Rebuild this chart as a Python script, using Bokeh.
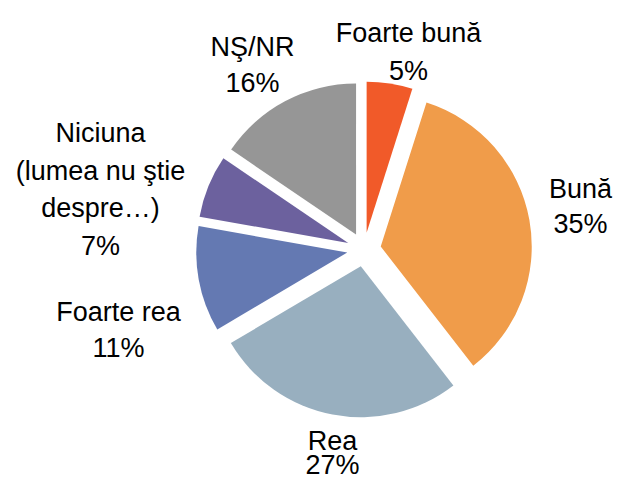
import math
from bokeh.plotting import figure
from bokeh.models import ColumnDataSource, Range1d
from bokeh.core.properties import value
from bokeh.embed import file_html
from bokeh.resources import INLINE

# ---- data ----
categories = ["Foarte bună", "Bună", "Rea", "Foarte rea",
              "Niciuna (lumea nu ştie despre…)", "NŞ/NR"]
label_lines = [["Foarte bună"], ["Bună"], ["Rea"], ["Foarte rea"],
               ["Niciuna", "(lumea nu ştie", "despre…)"], ["NŞ/NR"]]
values = [4.9, 34.6, 27.0, 11.3, 6.7, 15.5]
pct_labels = ["5%", "35%", "27%", "11%", "7%", "16%"]
colors = ["#F15A29", "#F09C4A", "#98AFBF", "#6479B2", "#6C619E", "#969696"]

# ---- layout (picture pixel coordinates, y measured downward) ----
PAGE_H = 491
W, H = 614, 475
SHIFT = -5          # small upward shift so the bottom label fits the canvas
CX, CY = 363.5, 254.0 + SHIFT
RADIUS = 151
EXPLODE = 17
label_cx = [408, 580, 332, 118, 100, 252]
label_first_baseline = [b + SHIFT for b in [37.3, 193.3, 445, 316.7, 137.3, 51]]
line_gap = [38, 35, 24, 36, 37.8, 36.7]
FONT = "Liberation Sans"
FONT_SIZE = "27px"

total = sum(values)
xs, ys, starts, ends = [], [], [], []
acc = 0.0
for v in values:
    t0 = acc / total * 2 * math.pi
    acc += v
    t1 = acc / total * 2 * math.pi
    tm = (t0 + t1) / 2
    xs.append(CX + EXPLODE * math.sin(tm))
    ys.append((PAGE_H - CY) + EXPLODE * math.cos(tm))
    starts.append(math.pi / 2 - t0)
    ends.append(math.pi / 2 - t1)

src = ColumnDataSource(dict(x=xs, y=ys, start=starts, end=ends,
                            color=colors, cat=categories))

p = figure(width=W, height=H, output_backend="svg", toolbar_location=None,
           title=None,
           x_range=Range1d(0, W), y_range=Range1d(PAGE_H - H, PAGE_H),
           x_axis_location=None, y_axis_location=None, min_border=0,
           outline_line_color=None, background_fill_color="white",
           border_fill_color="white")
p.grid.visible = False

p.wedge(x="x", y="y", radius=RADIUS, start_angle="start", end_angle="end",
        direction="clock", fill_color="color", line_color=None, source=src)

tx, ty, tt = [], [], []
for i, lines in enumerate(label_lines):
    all_lines = lines + [pct_labels[i]]
    for j, s in enumerate(all_lines):
        tx.append(label_cx[i])
        ty.append(PAGE_H - (label_first_baseline[i] + j * line_gap[i]))
        tt.append(s)

p.text(x=tx, y=ty, text=tt, text_align="center", text_baseline="alphabetic",
       text_font=value(FONT), text_font_size=FONT_SIZE, text_color="#000000")

open("out.html", "w").write(file_html(p, INLINE))
